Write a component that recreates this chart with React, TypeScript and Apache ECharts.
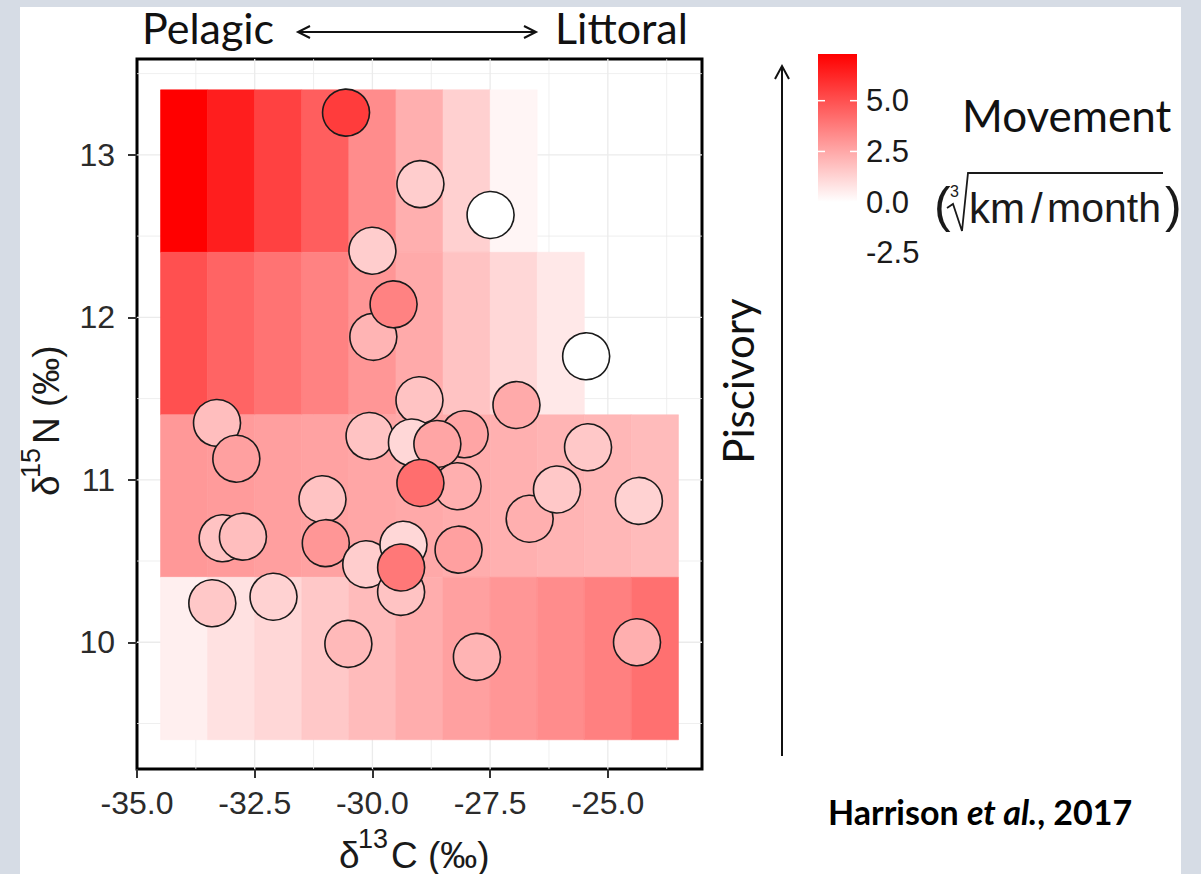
import React, { useEffect, useRef } from "react";
import * as echarts from "echarts";

// ---------- axes ----------
const X_MIN = -35;
const X_MAX = -23;
const Y_MIN = 9.22;
const Y_MAX = 13.59;
const X_TICKS = [-35, -32.5, -30, -27.5, -25];
const X_MINOR = [-33.75, -31.25, -28.75, -26.25, -23.75];
const Y_TICKS = [10, 11, 12, 13];
const Y_MINOR = [9.5, 10.5, 11.5, 12.5, 13.5];

// ---------- heat-map tiles (movement, cube-root km/month) ----------
const CELL_C = [-34, -33, -32, -31, -30, -29, -28, -27, -26, -25, -24];
const ROW_N = [12.9, 11.9, 10.9, 9.9];
const ROW_129 = [7.3, 6.44, 5.44, 4.6, 3.3, 2.3, 1.35, 0.29];
const ROW_119 = [5.0, 4.44, 4.0, 3.58, 3.0, 2.43, 1.72, 1.15, 0.66];
const ROW_109 = [2.95, 2.85, 2.75, 2.65, 2.55, 2.45, 2.35, 2.25, 2.15, 2.05, 1.95];
const ROW_99 = [0.45, 0.86, 1.15, 1.57, 1.95, 2.35, 2.72, 3.0, 3.3, 3.65, 4.1];
const ROWS = [ROW_129, ROW_119, ROW_109, ROW_99];

// ---------- individual fish ----------
const FISH_C = [
  -30.56, -28.98, -27.49, -30.0, -29.98, -29.55, -25.46, -29.0, -26.94, -33.3,
  -32.89, -30.06, -29.16, -28.04, -28.62, -28.19, -28.98, -31.06, -30.99, -26.66,
  -26.08, -25.42, -24.34, -33.18, -32.75, -30.13, -29.34, -29.39, -29.39, -28.17,
  -33.4, -32.1, -30.51, -27.78, -24.38,
];
const FISH_N = [
  13.26, 12.82, 12.63, 12.41, 11.88, 12.08, 11.76, 11.49, 11.46, 11.35,
  11.13, 11.27, 11.23, 11.28, 11.22, 10.96, 10.98, 10.88, 10.61, 10.76,
  10.94, 11.2, 10.87, 10.64, 10.65, 10.48, 10.6, 10.31, 10.46, 10.57,
  10.24, 10.28, 9.99, 9.91, 10.0,
];
const FISH_MOVE = [
  5.58, 1.43, -2.7, 1.43, 2.15, 3.58, -0.6, 1.72, 2.43, 1.86,
  2.72, 1.72, 1.15, 2.58, 2.58, 2.29, 4.15, 1.72, 3.0, 2.29,
  1.57, 1.57, 1.29, 1.72, 1.86, 1.43, 1.15, 1.72, 3.86, 2.72,
  1.57, 1.29, 2.0, 2.15, 2.29,
];

const LEGEND_TICKS = [-2.5, 0, 2.5, 5];

// ---------- derived ----------
const cellData: number[][] = [];
ROWS.forEach((row, r) => row.forEach((v, i) => cellData.push([CELL_C[i], ROW_N[r], v])));
const fishData = FISH_C.map((c, i) => [c, FISH_N[i], FISH_MOVE[i]]);
const allFill = [...cellData.map((d) => d[2]), ...FISH_MOVE];
const FILL_MIN = Math.min(...allFill);
const FILL_MAX = Math.max(...allFill);

const inside = (v: number, lo: number, hi: number) => v > lo && v < hi;
const gridData: number[][] = [
  ...X_MINOR.filter((v) => inside(v, X_MIN, X_MAX)).map((v) => [v, 0, 0]),
  ...Y_MINOR.filter((v) => inside(v, Y_MIN, Y_MAX)).map((v) => [v, 1, 0]),
  ...X_TICKS.filter((v) => inside(v, X_MIN, X_MAX)).map((v) => [v, 0, 1]),
  ...Y_TICKS.filter((v) => inside(v, Y_MIN, Y_MAX)).map((v) => [v, 1, 1]),
];

// ---------- layout ----------
const GRID = { left: 137, top: 59, width: 565, height: 710 };
const LEG = { x: 818, top: 54, w: 39, pxPerUnit: 20.3, labelX: 866 };
const legY = (v: number) => LEG.top + (FILL_MAX - v) * LEG.pxPerUnit;

const SANS = "Liberation Sans";
const HUM = "Lato";
const INK = "#111";
const AX = "#1a1a1a";

function txt(text: string, x: number, y: number, fontSize: number, extra: any = {}, family = HUM) {
  return {
    type: "text",
    x,
    y,
    z: 50,
    rotation: extra.rotation || 0,
    style: {
      text,
      fill: extra.fill || INK,
      fontSize,
      fontFamily: family,
      fontWeight: extra.fontWeight || "normal",
      fontStyle: extra.fontStyle || "normal",
      align: extra.align || "left",
      textAlign: extra.align || "left",
      verticalAlign: "middle",
      textVerticalAlign: "middle",
      rich: extra.rich,
    },
  };
}

function buildOption(): any {
  const barH = (FILL_MAX - FILL_MIN) * LEG.pxPerUnit;
  const whiteStop = FILL_MAX / (FILL_MAX - FILL_MIN);
  const R90 = Math.PI / 2;
  const graphics: any[] = [
    // page frame
    { type: "rect", z: 1, shape: { x: 0, y: 0, width: 20, height: 874 }, style: { fill: "#d6dce5" } },
    { type: "rect", z: 1, shape: { x: 0, y: 0, width: 1201, height: 7 }, style: { fill: "#d6dce5" } },
    { type: "rect", z: 1, shape: { x: 1181, y: 0, width: 20, height: 874 }, style: { fill: "#d6dce5" } },
    // top labels and arrow
    txt("Pelagic", 142, 27, 43),
    txt("Littoral", 555, 27, 43),
    { type: "line", z: 50, shape: { x1: 298, y1: 32, x2: 536, y2: 32 }, style: { stroke: INK, lineWidth: 2 } },
    { type: "polyline", z: 50, shape: { points: [[310, 26], [298, 32], [310, 38]] }, style: { stroke: INK, lineWidth: 2, fill: null } },
    { type: "polyline", z: 50, shape: { points: [[524, 26], [536, 32], [524, 38]] }, style: { stroke: INK, lineWidth: 2, fill: null } },
    // piscivory arrow
    { type: "line", z: 50, shape: { x1: 782, y1: 66, x2: 782, y2: 756 }, style: { stroke: INK, lineWidth: 2 } },
    { type: "polyline", z: 50, shape: { points: [[775, 79], [782, 66], [789, 79]] }, style: { stroke: INK, lineWidth: 2, fill: null } },
    txt("Piscivory", 738, 381, 42, { rotation: R90, align: "center" }),
    // colour bar
    {
      type: "rect",
      z: 40,
      shape: { x: LEG.x, y: LEG.top, width: LEG.w, height: barH },
      style: {
        fill: {
          type: "linear",
          x: 0,
          y: 0,
          x2: 0,
          y2: 1,
          colorStops: [
            { offset: 0, color: "#ff0000" },
            { offset: whiteStop, color: "#ffffff" },
            { offset: 1, color: "#ffffff" },
          ],
        },
      },
    },
    ...LEGEND_TICKS.flatMap((v) => [
      { type: "line", z: 45, shape: { x1: LEG.x, y1: legY(v), x2: LEG.x + 7, y2: legY(v) }, style: { stroke: "#fff", lineWidth: 1.5 } },
      { type: "line", z: 45, shape: { x1: LEG.x + LEG.w - 7, y1: legY(v), x2: LEG.x + LEG.w, y2: legY(v) }, style: { stroke: "#fff", lineWidth: 1.5 } },
      txt(v.toFixed(1), LEG.labelX, legY(v), 31, { fill: AX }, SANS),
    ]),
    txt("Movement", 962, 115, 44),
    // units (cube root of km / month)
    txt("(", 934, 205, 50, { fill: AX }, SANS),
    txt("3", 950, 191, 16, { fill: AX }, SANS),
    {
      type: "polyline",
      z: 50,
      shape: { points: [[947, 208], [953, 204], [962, 231], [968, 173], [1163, 173]] },
      style: { stroke: AX, lineWidth: 1.8, fill: null },
    },
    txt("km", 969, 208, 42, { fill: AX }, SANS),
    txt("/", 1031, 208, 42, { fill: AX }, SANS),
    txt("month", 1047, 208, 41, { fill: AX }, SANS),
    txt(")", 1165, 205, 50, { fill: AX }, SANS),
    // citation
    txt("{b|Harrison }{bi|et al.}{b|, 2017}", 828, 811, 34, {
      rich: {
        b: { fontFamily: HUM, fontSize: 34, fontWeight: "bold", fill: "#000" },
        bi: { fontFamily: HUM, fontSize: 34, fontWeight: "bold", fontStyle: "italic", fill: "#000" },
      },
    }),
    // x-axis title: δ13C (‰)
    txt("δ", 339, 855, 37, { fill: AX }, SANS),
    txt("13", 358, 839, 27, { fill: AX }, SANS),
    txt("C (‰)", 391, 855, 37, { fill: AX }, SANS),
    // y-axis title: δ15N (‰), reading upwards
    txt("δ", 46, 496, 37, { fill: AX, rotation: R90 }, SANS),
    txt("15", 31, 478, 27, { fill: AX, rotation: R90 }, SANS),
    txt("N (‰)", 46, 444, 37, { fill: AX, rotation: R90 }, SANS),
  ];

  const axisCommon = {
    type: "value",
    axisLine: { show: false },
    splitLine: { show: false },
  };

  return {
    animation: false,
    backgroundColor: "#ffffff",
    textStyle: { fontFamily: SANS },
    grid: { ...GRID, show: true, borderColor: "#000", borderWidth: 3, backgroundColor: "transparent" },
    xAxis: {
      ...axisCommon,
      min: X_MIN,
      max: X_MAX,
      axisTick: { show: true, length: 9, customValues: X_TICKS, lineStyle: { color: "#333", width: 2 } },
      axisLabel: {
        customValues: X_TICKS,
        formatter: (v: number) => v.toFixed(1),
        fontSize: 32,
        color: "#2b2b2b",
        fontFamily: SANS,
        margin: 18,
      },
    },
    yAxis: {
      ...axisCommon,
      min: Y_MIN,
      max: Y_MAX,
      axisTick: { show: true, length: 9, customValues: Y_TICKS, lineStyle: { color: "#333", width: 2 } },
      axisLabel: {
        customValues: Y_TICKS,
        formatter: (v: number) => String(v),
        fontSize: 32,
        color: "#2b2b2b",
        fontFamily: SANS,
        margin: 22,
      },
    },
    visualMap: {
      type: "continuous",
      show: false,
      min: 0,
      max: FILL_MAX,
      dimension: 2,
      seriesIndex: [1, 2],
      inRange: { color: ["#ffffff", "#ff0000"] },
      outOfRange: { color: "#ffffff" },
    },
    graphic: { elements: graphics },
    series: [
      {
        type: "custom",
        z: 1,
        silent: true,
        data: gridData,
        encode: { x: 0, y: 1 },
        renderItem: (_p: any, api: any) => {
          const v = api.value(0);
          const dir = api.value(1);
          const major = api.value(2);
          const a = dir === 0 ? api.coord([v, Y_MIN]) : api.coord([X_MIN, v]);
          const b = dir === 0 ? api.coord([v, Y_MAX]) : api.coord([X_MAX, v]);
          return {
            type: "line",
            shape: { x1: a[0], y1: a[1], x2: b[0], y2: b[1] },
            style: { stroke: "#ebebeb", lineWidth: major ? 1.3 : 0.8 },
          };
        },
      },
      {
        type: "custom",
        z: 2,
        silent: true,
        data: cellData,
        encode: { x: 0, y: 1 },
        renderItem: (_p: any, api: any) => {
          const x = api.value(0);
          const y = api.value(1);
          const p1 = api.coord([x - 0.5, y + 0.5]);
          const p2 = api.coord([x + 0.5, y - 0.5]);
          const c = api.visual("color");
          return {
            type: "rect",
            shape: { x: p1[0], y: p1[1], width: p2[0] - p1[0], height: p2[1] - p1[1] },
            style: { fill: c, stroke: c, lineWidth: 0.6 },
          };
        },
      },
      {
        type: "scatter",
        z: 3,
        symbol: "circle",
        symbolSize: 47,
        data: fishData,
        itemStyle: { borderColor: "#1a1a1a", borderWidth: 1.6, opacity: 1 },
      },
    ],
  };
}

export default function App() {
  const ref = useRef<HTMLDivElement>(null);
  useEffect(() => {
    if (!ref.current) return;
    const chart = echarts.init(ref.current, undefined, { renderer: "svg" });
    chart.setOption(buildOption());
    return () => chart.dispose();
  }, []);
  return (
    <div
      ref={ref}
      style={{ position: "absolute", left: 0, top: 0, width: 1201, height: 874 }}
    />
  );
}
